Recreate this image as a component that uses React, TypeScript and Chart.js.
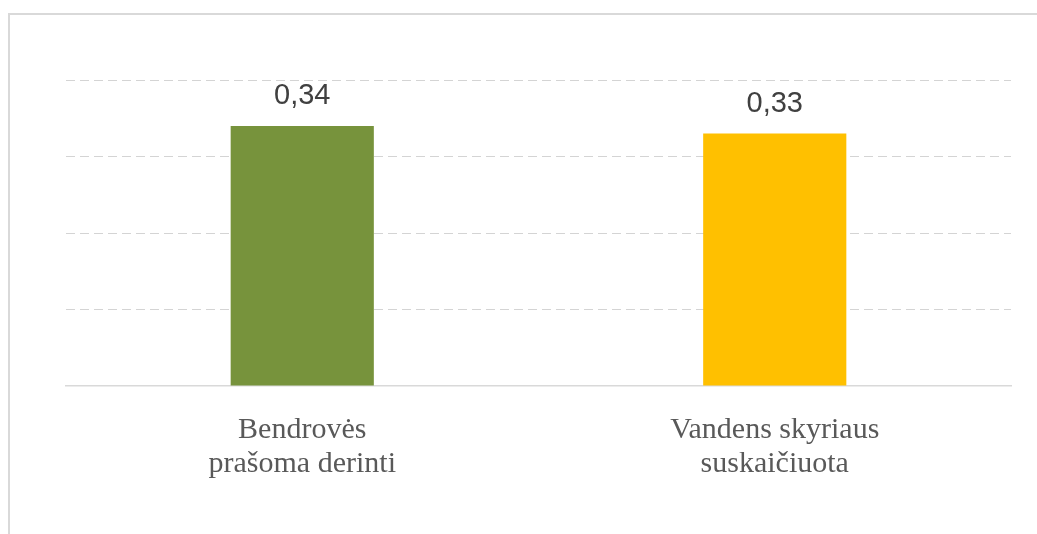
import React, { useEffect, useRef } from "react";
import { Chart, registerables } from "chart.js";

Chart.register(...registerables);

const categories: string[][] = [["Bendrovės", "prašoma derinti"], ["Vandens skyriaus", "suskaičiuota"]];
const values: number[] = [0.34, 0.33];
const barColors: string[] = ["#77933C", "#FFC000"];
const valueLabels: string[] = ["0,34", "0,33"];

const SERIF = "'Liberation Serif', 'Times New Roman', serif";
const SANS = "'Liberation Sans', Arial, sans-serif";

export default function App() {
  const ref = useRef<HTMLCanvasElement | null>(null);
  useEffect(() => {
    if (!ref.current) return;
    const labelPlugin = {
      id: "valueLabels",
      afterDatasetsDraw(chart: any) {
        const ctx = chart.ctx;
        const meta = chart.getDatasetMeta(0);
        ctx.save();
        ctx.font = `29px ${SANS}`;
        ctx.fillStyle = "#404040";
        ctx.textAlign = "center";
        ctx.textBaseline = "alphabetic";
        meta.data.forEach((bar: any, i: number) => {
          ctx.fillText(valueLabels[i], bar.x, bar.y - 22);
        });
        ctx.restore();
      },
    };
    const chart = new Chart(ref.current, {
      type: "bar",
      data: {
        labels: categories,
        datasets: [
          {
            data: values,
            backgroundColor: barColors,
            borderWidth: 0,
            barPercentage: 0.303,
            categoryPercentage: 1,
          },
        ],
      },
      options: {
        responsive: false,
        animation: false,
        layout: { padding: { left: 66, right: 26, top: 80, bottom: 0 } },
        plugins: { legend: { display: false }, tooltip: { enabled: false } },
        scales: {
          x: {
            grid: { display: false },
            border: { display: true, color: "#d9d9d9", width: 1.5 },
            ticks: {
              color: "#595959",
              font: { family: SERIF, size: 30, lineHeight: 1.13 },
              padding: 19,
              maxRotation: 0,
            },
            afterFit(scale: any) {
              scale.height = 148;
            },
          },
          y: {
            min: 0,
            max: 0.4,
            ticks: { display: false, stepSize: 0.1 },
            border: { display: false, dash: [9, 5] },
            grid: {
              color: (c: any) => (c.tick && c.tick.value === 0 ? "rgba(0,0,0,0)" : "#d4d4d4"),
              lineWidth: 1,
              drawTicks: false,
            },
            afterFit(scale: any) {
              scale.width = 0;
            },
          },
        },
      },
      plugins: [labelPlugin],
    });
    return () => chart.destroy();
  }, []);
  return (
    <div style={{ position: "fixed", left: 0, top: 0, width: 1037, height: 534, background: "#fff", overflow: "hidden" }}>
      <div
        style={{
          position: "absolute",
          left: 8,
          top: 13,
          width: 1100,
          height: 600,
          borderTop: "2px solid #d9d9d9",
          borderLeft: "2px solid #d9d9d9",
        }}
      />
      <canvas ref={ref} width={1037} height={534} style={{ position: "absolute", left: 0, top: 0 }} />
    </div>
  );
}
